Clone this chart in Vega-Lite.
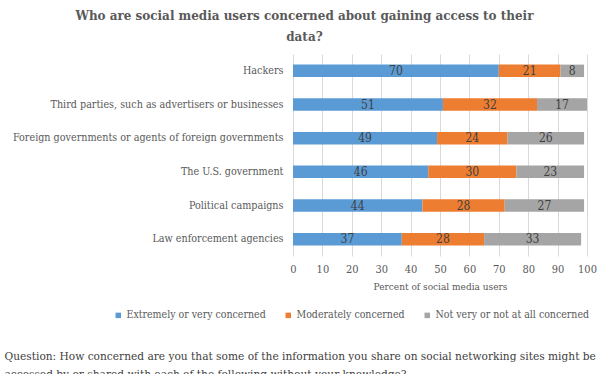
{
  "$schema": "https://vega.github.io/schema/vega-lite/v6.json",
  "background": "white",
  "padding": {"left": 4, "top": 8, "right": 5, "bottom": 0},
  "title": {
    "text": ["Question: How concerned are you that some of the information you share on social networking sites might be", "accessed by or shared with each of the following without your knowledge?"],
    "orient": "bottom",
    "anchor": "start",
    "frame": "bounds",
    "dx": -8,
    "offset": 30,
    "fontSize": 11.8,
    "fontWeight": "normal",
    "color": "#404040",
    "lineHeight": 18,
    "font": "DejaVu Serif Condensed"
  },
  "vconcat": [
    {
      "title": {
        "text": ["Who are social media users concerned about gaining access to their", "data?"],
        "anchor": "middle",
        "frame": "bounds",
        "fontSize": 13.3,
        "fontWeight": "bold",
        "color": "#595959",
        "lineHeight": 21,
        "offset": 11,
        "font": "DejaVu Serif Condensed"
      },
      "width": 294,
      "height": 202,
      "data": {
        "values": [
          {"cat": "Hackers", "series": "Extremely or very concerned", "value": 70},
          {"cat": "Hackers", "series": "Moderately concerned", "value": 21},
          {"cat": "Hackers", "series": "Not very or not at all concerned", "value": 8},
          {"cat": "Third parties, such as advertisers or businesses", "series": "Extremely or very concerned", "value": 51},
          {"cat": "Third parties, such as advertisers or businesses", "series": "Moderately concerned", "value": 32},
          {"cat": "Third parties, such as advertisers or businesses", "series": "Not very or not at all concerned", "value": 17},
          {"cat": "Foreign governments or agents of foreign governments", "series": "Extremely or very concerned", "value": 49},
          {"cat": "Foreign governments or agents of foreign governments", "series": "Moderately concerned", "value": 24},
          {"cat": "Foreign governments or agents of foreign governments", "series": "Not very or not at all concerned", "value": 26},
          {"cat": "The U.S. government", "series": "Extremely or very concerned", "value": 46},
          {"cat": "The U.S. government", "series": "Moderately concerned", "value": 30},
          {"cat": "The U.S. government", "series": "Not very or not at all concerned", "value": 23},
          {"cat": "Political campaigns", "series": "Extremely or very concerned", "value": 44},
          {"cat": "Political campaigns", "series": "Moderately concerned", "value": 28},
          {"cat": "Political campaigns", "series": "Not very or not at all concerned", "value": 27},
          {"cat": "Law enforcement agencies", "series": "Extremely or very concerned", "value": 37},
          {"cat": "Law enforcement agencies", "series": "Moderately concerned", "value": 28},
          {"cat": "Law enforcement agencies", "series": "Not very or not at all concerned", "value": 33}
        ]
      },
      "layer": [
        {
          "mark": {"type": "bar"},
          "encoding": {
            "x": {
              "field": "value",
              "type": "quantitative",
              "stack": "zero",
              "scale": {"domain": [0, 100], "nice": false},
              "axis": {
                "values": [0, 10, 20, 30, 40, 50, 60, 70, 80, 90, 100],
                "title": "Percent of social media users"
              }
            },
            "y": {
              "field": "cat",
              "type": "nominal",
              "sort": ["Hackers", "Third parties, such as advertisers or businesses", "Foreign governments or agents of foreign governments", "The U.S. government", "Political campaigns", "Law enforcement agencies"],
              "scale": {"paddingInner": 0.63, "paddingOuter": 0.315},
              "axis": {
                "title": null,
                "domain": false,
                "ticks": false,
                "labelFontSize": 10.7,
                "labelColor": "#595959",
                "labelPadding": 10,
                "labelLimit": 400
              }
            },
            "color": {
              "field": "series",
              "type": "nominal",
              "scale": {
                "domain": ["Extremely or very concerned", "Moderately concerned", "Not very or not at all concerned"],
                "range": ["#5b9bd5", "#ed7d31", "#a5a5a5"]
              },
              "legend": {
                "title": null,
                "orient": "none",
                "direction": "horizontal",
                "legendX": -180,
                "legendY": 256,
                "symbolType": "square",
                "symbolSize": 30,
                "symbolStrokeWidth": 0,
                "labelFontSize": 10.5,
                "labelColor": "#595959",
                "labelOffset": 3,
                "columnPadding": 17
              }
            }
          }
        },
        {
          "transform": [
            {"stack": "value", "groupby": ["cat"], "sort": [{"field": "series"}], "as": ["v0", "v1"]},
            {"fold": ["v0", "v1"], "as": ["edge", "pos"]},
            {"aggregate": [{"op": "mean", "field": "pos", "as": "mid"}], "groupby": ["cat", "series", "value"]}
          ],
          "mark": {"type": "text", "fontSize": 12, "color": "#404040"},
          "encoding": {
            "x": {
              "field": "mid",
              "type": "quantitative",
              "axis": {
                "values": [0, 10, 20, 30, 40, 50, 60, 70, 80, 90, 100],
                "title": "Percent of social media users"
              }
            },
            "y": {"field": "cat", "type": "nominal", "sort": ["Hackers", "Third parties, such as advertisers or businesses", "Foreign governments or agents of foreign governments", "The U.S. government", "Political campaigns", "Law enforcement agencies"]},
            "text": {"field": "value", "type": "quantitative"}
          }
        }
      ]
    }
  ],
  "config": {
    "font": "DejaVu Serif Condensed",
    "view": {"stroke": null},
    "axisX": {
      "grid": true,
      "gridColor": "#d9d9d9",
      "domain": false,
      "ticks": false,
      "labelOverlap": false,
      "labelFlush": false,
      "labelFontSize": 11,
      "labelColor": "#595959",
      "labelPadding": 7,
      "titleFontSize": 10,
      "titleFontWeight": "normal",
      "titleColor": "#595959",
      "titlePadding": 7
    }
  }
}
